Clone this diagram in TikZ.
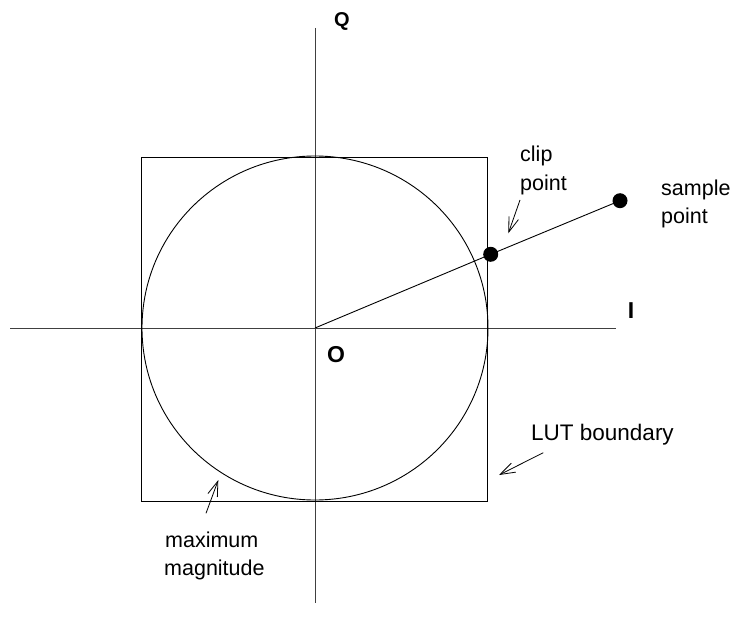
\documentclass[tikz,border=0pt]{standalone}
\usepackage{fontspec}
\setmainfont{Liberation Sans}
\usetikzlibrary{arrows.meta}
\begin{document}
\begin{tikzpicture}[x=1pt,y=-1pt,
  thinline/.style={line width=0.9pt},
  axisline/.style={line width=1pt, black!75},
  lbl/.style={font=\fontsize{21.5}{28.5}\selectfont, anchor=base west, inner sep=0pt},
  axlbl/.style={font=\fontsize{23}{23}\selectfont\bfseries, inner sep=0pt},
  ptr/.style={line width=0.8pt, -{Straight Barb[length=15pt,width=10pt,line width=0.8pt]}},
  dot/.style={circle, fill=black, minimum size=15pt, inner sep=0pt}]
\useasboundingbox (0,0) rectangle (730,631);
% axes
\coordinate (xl) at (10,328);
\coordinate (xr) at (616,328);
\coordinate (yt) at (315,28);
\coordinate (yb) at (315,603);
\draw[axisline] (xl) -- (xr);
\draw[axisline] (yt) -- (yb);
\coordinate (O) at (315,328);
% square and circle
\draw[thinline] (141,157) rectangle (487,501);
\draw[thinline] (O) ellipse [x radius=173, y radius=172];
% points
\node[dot] (clip) at (490.7,254.3) {};
\node[dot] (samp) at (620,200.7) {};
\draw[thinline] (O) -- (clip.center) -- (samp);
% labels
\node[axlbl, font=\fontsize{20}{20}\selectfont\bfseries] (Q) at (342,21) {Q};
\node[axlbl] (I) at (631,311) {I};
\node[axlbl] (Olab) at (336,355) {O};
\node[lbl] (cliplab1) at (520,161.5) {clip};
\node[lbl] (cliplab2) at (520,190) {point};
\node[lbl] (samplab1) at (661,195) {sample};
\node[lbl] (samplab2) at (661,223) {point};
\node[lbl, font=\fontsize{22.5}{28.5}\selectfont] (lutlab) at (531,440) {LUT boundary};
\node[lbl] (maxlab1) at (165,547) {maximum};
\node[lbl] (maxlab2) at (164,575) {magnitude};
% pointer arrows
\coordinate (a1s) at (520,200);
\coordinate (a1e) at (508.3,233.3);
\coordinate (a2s) at (543.3,452.7);
\coordinate (a2e) at (499,475);
\coordinate (a3s) at (206,513.3);
\coordinate (a3e) at (218.3,480);
\draw[ptr] (a1s) -- (a1e);
\draw[ptr] (a2s) -- (a2e);
\draw[ptr] (a3s) -- (a3e);
\end{tikzpicture}
\end{document}
